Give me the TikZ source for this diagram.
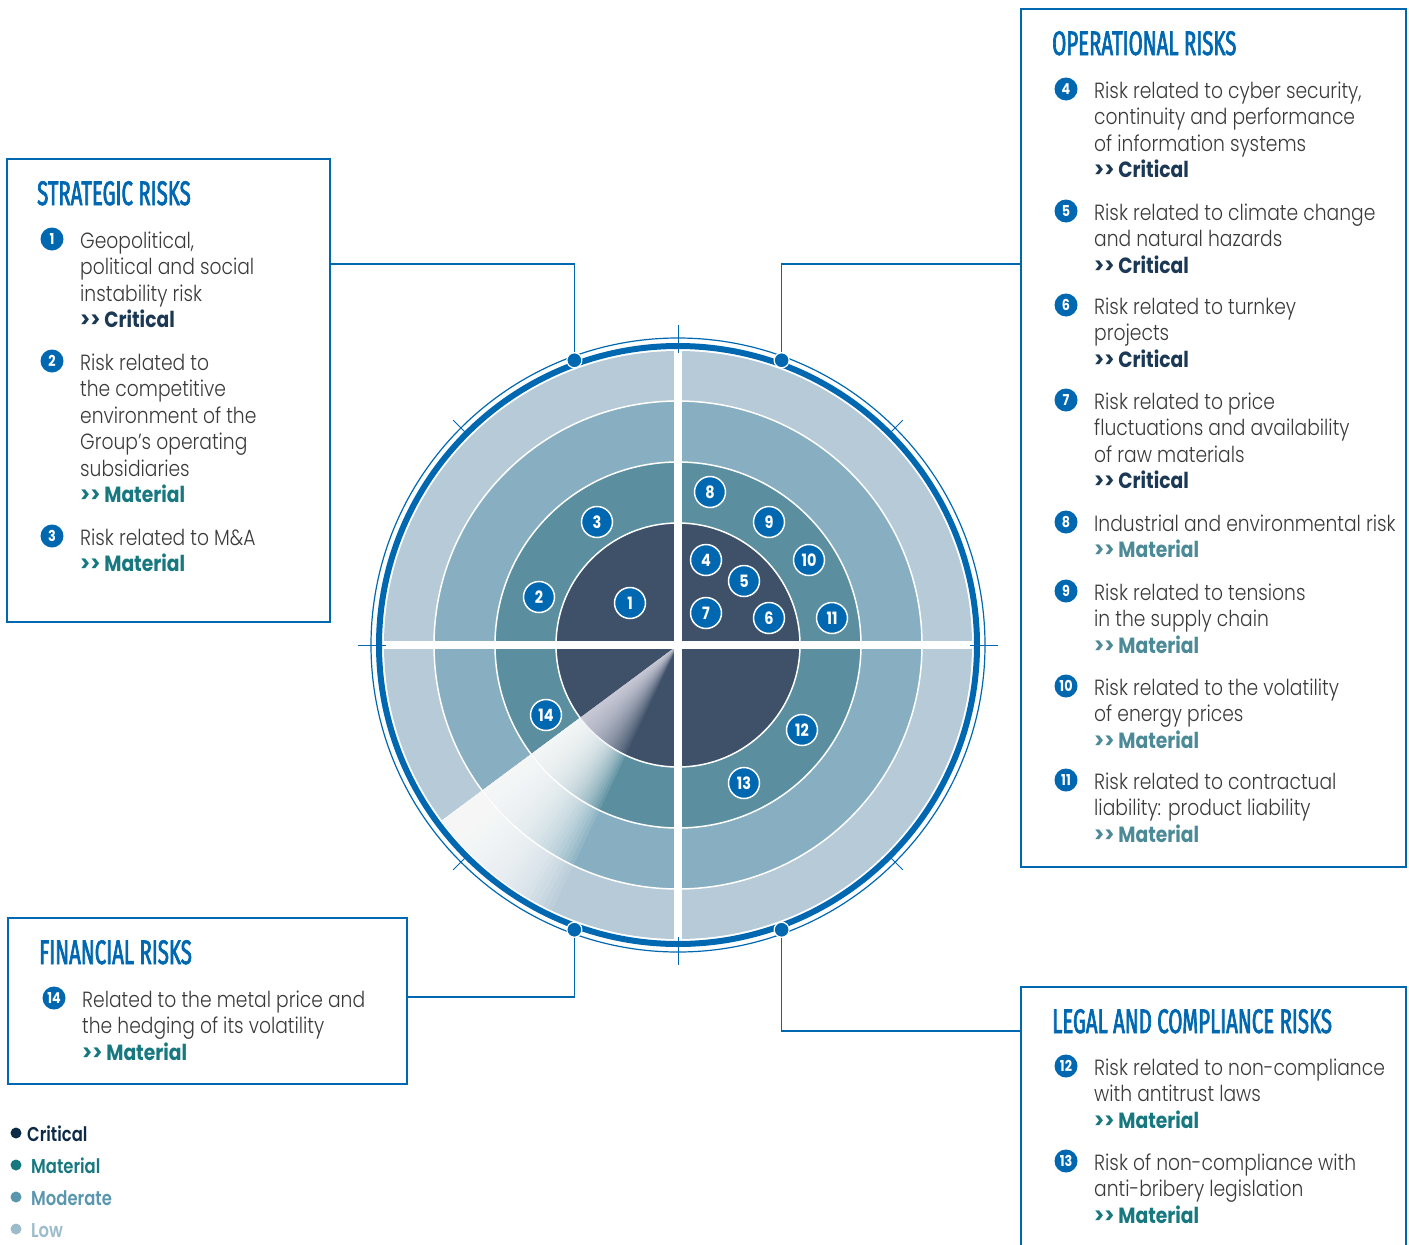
\documentclass[tikz,border=0pt]{standalone}
\usepackage{fontspec}
\setmainfont{Poppins Light}[BoldFont={Poppins Bold},FakeStretch=0.85]
\newfontfamily\titlefont{Fira Sans}[FakeStretch=0.6,FakeBold=2]
\newfontfamily\legendfont{Poppins SemiBold}[FakeStretch=0.82]
\definecolor{riskblue}{HTML}{0067B1}
\definecolor{critdisk}{HTML}{3E5169}
\definecolor{matring}{HTML}{5B8FA0}
\definecolor{modring}{HTML}{87AFC1}
\definecolor{lowring}{HTML}{B6CAD7}
\definecolor{bodytext}{HTML}{3A3A3A}
\definecolor{crittext}{HTML}{1B3954}
\definecolor{mattext}{HTML}{17787F}
\definecolor{mattextlight}{HTML}{4B8A96}
\definecolor{legcrit}{HTML}{0D2B47}
\definecolor{legmod}{HTML}{5A96AE}
\definecolor{leglow}{HTML}{9CBCCB}
\definecolor{beamtint}{HTML}{EEEAF5}
\tikzset{
	% boxes round each group of risks
	risk box/.style={draw=riskblue,line width=1.5,anchor=north west,inner sep=0},
	box title/.style={anchor=base west,inner sep=0,text=riskblue,font=\titlefont\fontsize{34}{34}\selectfont},
	entry/.style={anchor=north west,inner sep=0,align=left,text=bodytext,font=\fontsize{22}{26.5}\selectfont},
	% numbered badges: in the boxes and on the target
	badge/.style={circle,fill=riskblue,text=white,inner sep=0,minimum size=23,font=\bfseries\fontsize{15}{15}\selectfont},
	target badge/.style={badge,draw=white,line width=1.5,minimum size=31,font=\bfseries\fontsize{17}{17}\selectfont},
	% joints on the ring and their links to the boxes
	joint/.style={circle,fill=riskblue,draw=white,line width=1.2,inner sep=0,minimum size=15},
	link/.style={draw=riskblue,line width=1.2},
	legend dot/.style={circle,inner sep=0,minimum size=11},
	legend text/.style={anchor=base west,inner sep=0,font=\legendfont\fontsize{20}{20}\selectfont}
}
\begin{document}
\begin{tikzpicture}[x=1pt,y=-1pt]
	% macros for the level tags
	\newcommand{\lvlcrit}{{\bfseries\color{crittext}>{}> Critical}}
	\newcommand{\lvlmat}{{\bfseries\color{mattext}>{}> Material}}
	\newcommand{\lvlmatop}{{\bfseries\color{mattextlight}>{}> Material}}
	% macro for a numbered entry: name, number, first baseline, text
	\newcommand{\riskentry}[4]{%
		\node[entry,yshift=18](#1)at(#3){\rule{0pt}{18pt}#4};
		\node[badge](#1-num)at([xshift=-28,yshift=-9]#1.north west){#2};}
	\useasboundingbox (0,0) rectangle (1409,1245);

	% the target
	\begin{scope}[shift={(678,645)},y=1pt]
		\fill[lowring] (0,0) circle[radius=294];
		\fill[modring] (0,0) circle[radius=244];
		\fill[matring] (0,0) circle[radius=183];
		\fill[critdisk] (0,0) circle[radius=122];
		\draw[white,line width=1.5] (0,0) circle[radius=244] (0,0) circle[radius=183] (0,0) circle[radius=122];
		% light beam
		\foreach \k in {1,...,28}{
			\fill[beamtint,opacity=0.06] (0,0) -- (216.6:122) arc[start angle=216.6,end angle=216.6+\k,radius=122] -- cycle;
			\fill[white,opacity=0.1] (216.6:122) -- (216.6:294) arc[start angle=216.6,end angle=216.6+\k,radius=294] -- ({216.6+\k}:122) arc[start angle=216.6+\k,end angle=216.6,radius=122] -- cycle;
		}
		\draw[white,line width=8] (-294,0) -- (294,0) (0,-294) -- (0,294);
		\draw[riskblue,line width=6] (0,0) circle[radius=299];
		\draw[riskblue,line width=1.2] (0,0) circle[radius=307];
		\foreach \a in {45,135,225,315} \draw[riskblue,line width=1] (\a:298) -- (\a:318);
		\foreach \a in {0,90,180,270} \draw[riskblue,line width=1] (\a:292) -- (\a:320);
		\node[joint] (j-s) at (110:303) {};
		\node[joint] (j-o) at (70:303) {};
		\node[joint] (j-f) at (250:303) {};
		\node[joint] (j-l) at (290:303) {};
	\end{scope}

	\node[target badge] (t1) at (630,603) {1};
	\node[target badge] (t2) at (539,597) {2};
	\node[target badge] (t3) at (597,522) {3};
	\node[target badge] (t4) at (706,560) {4};
	\node[target badge] (t5) at (744,581) {5};
	\node[target badge] (t6) at (769,618) {6};
	\node[target badge] (t7) at (706,613) {7};
	\node[target badge] (t8) at (710,492) {8};
	\node[target badge] (t9) at (769,522) {9};
	\node[target badge] (t10) at (809,560) {10};
	\node[target badge] (t11) at (832,618) {11};
	\node[target badge] (t12) at (802,730) {12};
	\node[target badge] (t13) at (744,783) {13};
	\node[target badge] (t14) at (546,715) {14};

	% boxes
	\node[risk box,minimum width=323,minimum height=463] (strat) at (6,158) {};
	\node[risk box,minimum width=385,minimum height=858] (oper) at (1020,8) {};
	\node[risk box,minimum width=399,minimum height=166] (fin) at (7,917) {};
	\node[risk box,minimum width=385,minimum height=270] (legal) at (1020,986) {};

	\draw[link] (j-s) |- (strat.east |- 0,264);
	\draw[link] (j-o) |- (oper.west |- 0,264);
	\draw[link] (j-f) |- (fin.east |- 0,997);
	\draw[link] (j-l) |- (legal.west |- 0,1031);

	% strategic risks
	\node[box title] (strat-t) at (37,205) {STRATEGIC RISKS};
	\riskentry{s1}{1}{80,248}{Geopolitical,\\political and social\\instability risk\\\lvlcrit}
	\riskentry{s2}{2}{80,370}{Risk related to\\the competitive\\environment of the\\Group’s operating\\subsidiaries\\\lvlmat}
	\riskentry{s3}{3}{80,545}{Risk related to M\&A\\\lvlmat}

	% operational risks
	\node[box title] (oper-t) at (1052,55) {OPERATIONAL RISKS};
	\riskentry{o4}{4}{1094,98}{Risk related to cyber security,\\continuity and performance\\of information systems\\\lvlcrit}
	\riskentry{o5}{5}{1094,220}{Risk related to climate change\\and natural hazards\\\lvlcrit}
	\riskentry{o6}{6}{1094,314}{Risk related to turnkey\\projects\\\lvlcrit}
	\riskentry{o7}{7}{1094,409}{Risk related to price\\fluctuations and availability\\of raw materials\\\lvlcrit}
	\riskentry{o8}{8}{1094,531}{Industrial and environmental risk\\\lvlmatop}
	\riskentry{o9}{9}{1094,600}{Risk related to tensions\\in the supply chain\\\lvlmatop}
	\riskentry{o10}{10}{1094,695}{Risk related to the volatility\\of energy prices\\\lvlmatop}
	\riskentry{o11}{11}{1094,789}{Risk related to contractual\\liability: product liability\\\lvlmatop}

	% financial risks
	\node[box title] (fin-t) at (39,964) {FINANCIAL RISKS};
	\riskentry{f14}{14}{82,1007}{Related to the metal price and\\the hedging of its volatility\\\lvlmat}

	% legal and compliance risks
	\node[box title] (legal-t) at (1052,1033) {LEGAL AND COMPLIANCE RISKS};
	\riskentry{l12}{12}{1094,1075}{Risk related to non-compliance\\with antitrust laws\\\lvlmat}
	\riskentry{l13}{13}{1094,1170}{Risk of non-compliance with\\anti-bribery legislation\\\lvlmat}

	% legend
	\node[legend dot,fill=legcrit] (lg1) at (16,1133) {};
	\node[legend text,text=legcrit] (lg1-t) at (27,1141) {Critical};
	\node[legend dot,fill=mattext] (lg2) at (16,1165) {};
	\node[legend text,text=mattext] (lg2-t) at (31,1173) {Material};
	\node[legend dot,fill=legmod] (lg3) at (16,1197) {};
	\node[legend text,text=legmod] (lg3-t) at (31,1205) {Moderate};
	\node[legend dot,fill=leglow] (lg4) at (16,1229) {};
	\node[legend text,text=leglow] (lg4-t) at (31,1237) {Low};
\end{tikzpicture}
\end{document}
